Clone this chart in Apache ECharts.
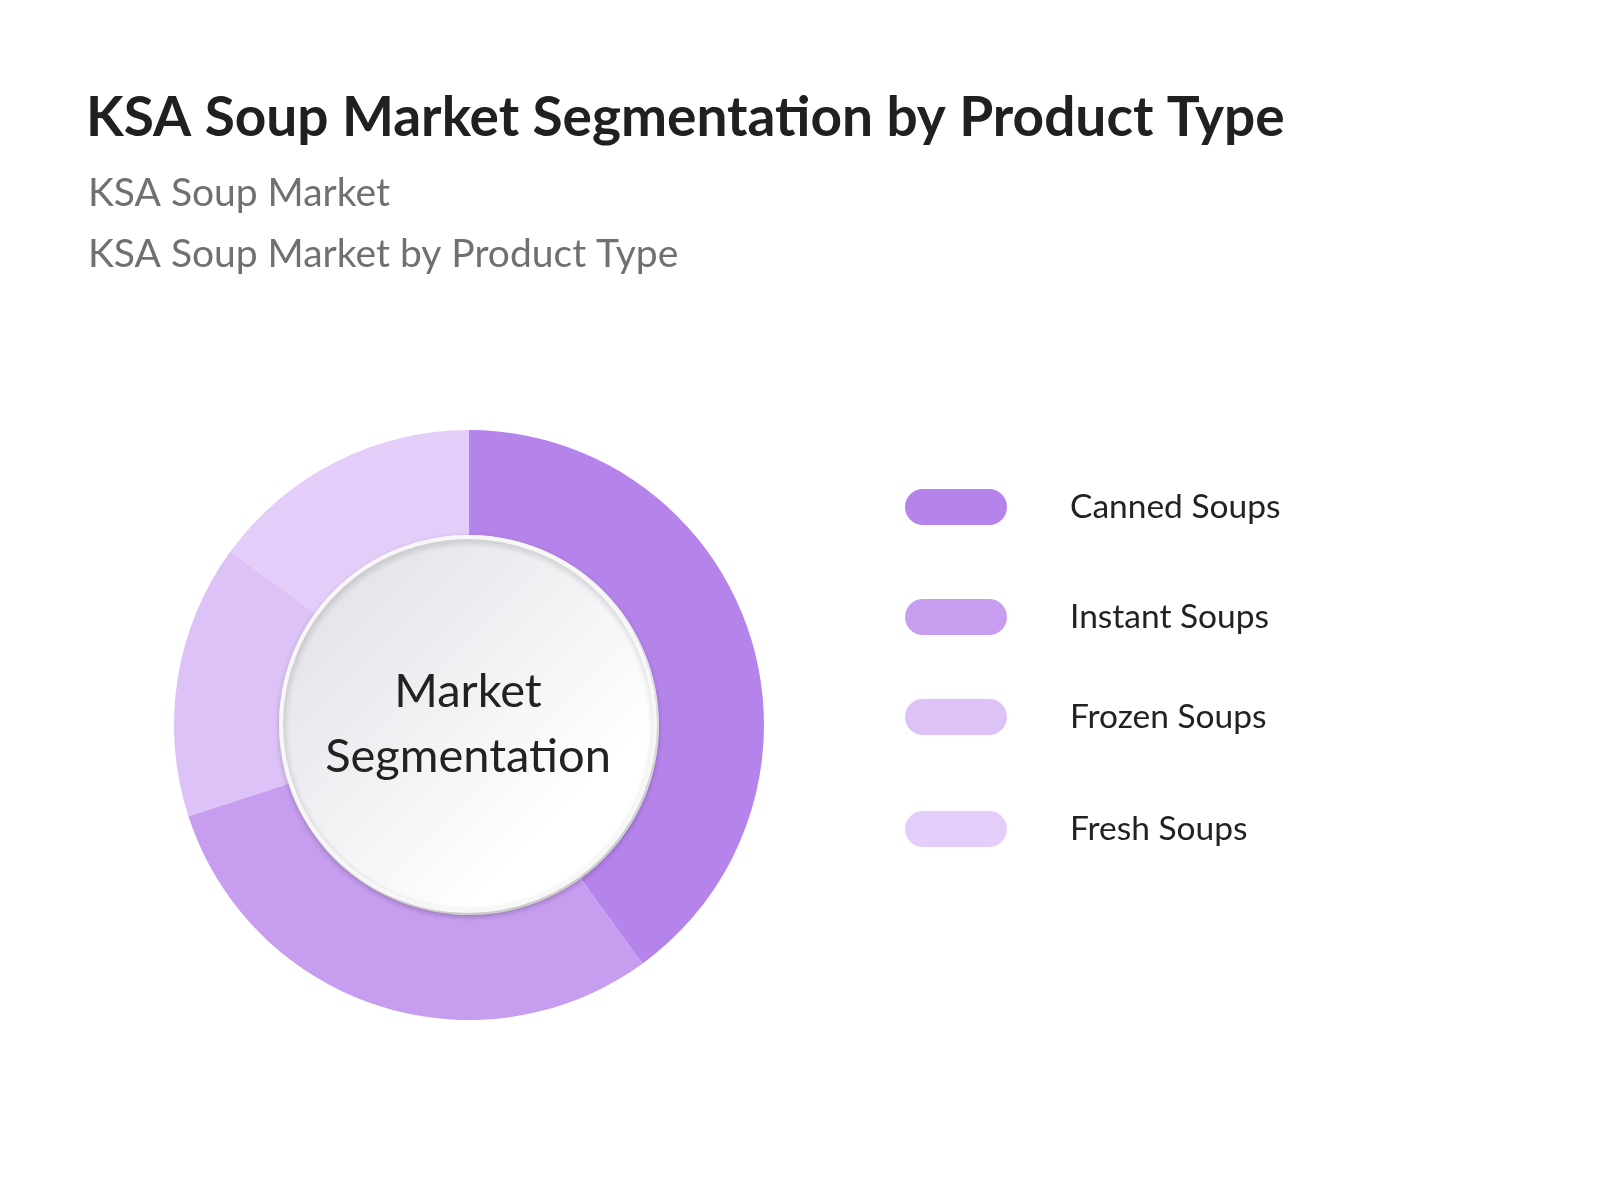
<!DOCTYPE html>
<html>
<head>
<meta charset="utf-8">
<script src="https://cdn.jsdelivr.net/npm/echarts@6/dist/echarts.min.js"></script>
<style>
html,body{margin:0;padding:0;background:#fff;}
#chart{width:1600px;height:1200px;}
</style>
</head>
<body>
<div id="chart"></div>
<script>
const categories = ['Canned Soups', 'Instant Soups', 'Frozen Soups', 'Fresh Soups'];
const shares = [40, 30, 15, 15];
const colors = ['#b584eb', '#c69def', '#dcc2f6', '#e4cdf8'];
const titleText = 'KSA Soup Market Segmentation by Product Type';
const subtitleLines = ['KSA Soup Market', 'KSA Soup Market by Product Type'];
const centerText = 'Market\nSegmentation';

const FONT = 'Lato, "Noto Sans", sans-serif';
const pillPath = 'path://M18,0 L84,0 A18,18 0 0 1 84,36 L18,36 A18,18 0 0 1 18,0 Z';
const legendTops = [489, 599, 699, 811];

const chart = echarts.init(document.getElementById('chart'), null, {renderer: 'canvas'});

const legends = categories.map((name, i) => ({
  data: [name],
  orient: 'vertical',
  left: 905,
  top: legendTops[i],
  padding: 0,
  itemWidth: 102,
  itemHeight: 36,
  icon: pillPath,
  selectedMode: false,
  textStyle: {
    fontFamily: FONT,
    fontSize: 33.5,
    color: '#222222',
    lineHeight: 36,
    padding: [0, 0, 0, 58]
  }
}));

const option = {
  backgroundColor: '#ffffff',
  animation: false,
  color: colors,
  title: [
    {
      text: titleText,
      left: 86,
      top: 91,
      padding: 0,
      textStyle: {fontFamily: FONT, fontSize: 55, fontWeight: 'bold', color: '#202020', lineHeight: 55}
    },
    {
      text: subtitleLines[0],
      left: 88,
      top: 174,
      padding: 0,
      textStyle: {fontFamily: FONT, fontSize: 39, fontWeight: 'normal', color: '#707070', lineHeight: 39}
    },
    {
      text: subtitleLines[1],
      left: 88,
      top: 235,
      padding: 0,
      textStyle: {fontFamily: FONT, fontSize: 39, fontWeight: 'normal', color: '#707070', lineHeight: 39}
    }
  ],
  legend: legends,
  series: [
    {
      type: 'pie',
      name: 'Product Type',
      center: [469, 725],
      radius: [190, 295],
      startAngle: 90,
      clockwise: true,
      avoidLabelOverlap: false,
      label: {show: false},
      labelLine: {show: false},
      emphasis: {disabled: true},
      itemStyle: {borderWidth: 0},
      data: categories.map((name, i) => ({name: name, value: shares[i]}))
    },
    {
      type: 'pie',
      name: 'center',
      center: [468, 724],
      radius: [0, 187],
      silent: true,
      legendHoverLink: false,
      emphasis: {disabled: true},
      label: {
        show: true,
        position: 'center',
        formatter: centerText,
        fontFamily: FONT,
        fontSize: 47,
        lineHeight: 65,
        color: '#222222'
      },
      labelLine: {show: false},
      itemStyle: {
        color: {
          type: 'linear', x: 0, y: 0, x2: 1, y2: 1,
          colorStops: [
            {offset: 0, color: '#dedde4'},
            {offset: 0.75, color: '#ffffff'},
            {offset: 1, color: '#ffffff'}
          ]
        },
        borderColor: '#f7f7f7',
        borderWidth: 4,
        shadowBlur: 6,
        shadowColor: 'rgba(0,0,0,0.22)',
        shadowOffsetX: 1,
        shadowOffsetY: 3
      },
      data: [{name: '__center__', value: 1}]
    }
  ]
};

chart.setOption(option);
</script>
</body>
</html>
